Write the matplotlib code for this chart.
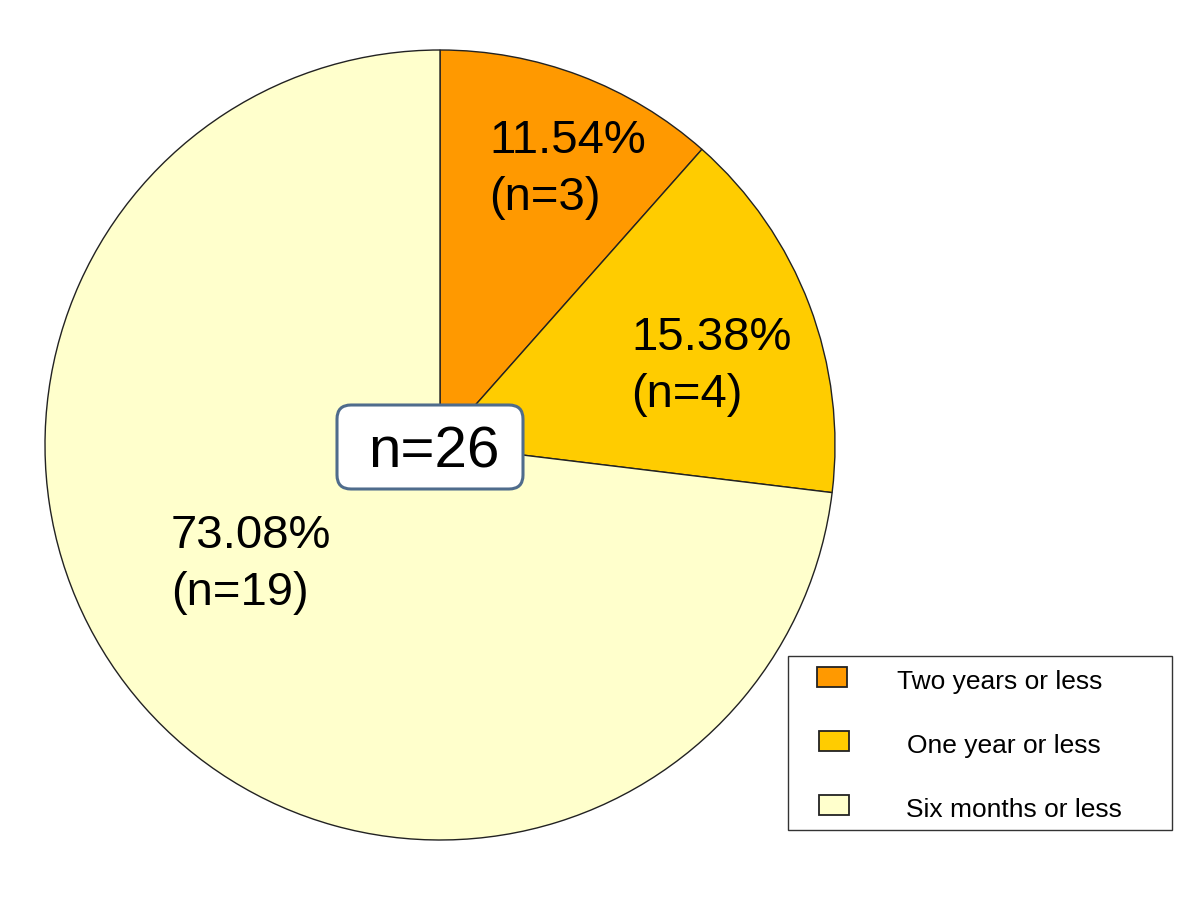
import matplotlib
matplotlib.use("Agg")
import matplotlib.pyplot as plt
from matplotlib.patches import FancyBboxPatch, Rectangle

plt.rcParams['font.family'] = ['Liberation Sans', 'DejaVu Sans']

categories = ["Two years or less", "One year or less", "Six months or less"]
counts = [3, 4, 19]
percents = ["11.54%", "15.38%", "73.08%"]
colors = ["#FF9900", "#FFCC00", "#FFFFCC"]
total_label = "n=26"

W, H = 1200, 900
fig = plt.figure(figsize=(12, 9), dpi=100)
fig.patch.set_facecolor("white")

# pie axes: center (440,445) px, radius 395 px
cx, cy, r = 440, 445, 395
ax = fig.add_axes([(cx - r) / W, (H - cy - r) / H, 2 * r / W, 2 * r / H])
ax.pie(counts, colors=colors, startangle=90, counterclock=False, radius=1,
       wedgeprops=dict(edgecolor="#222222", linewidth=1.0))
ax.set_xlim(-1, 1)
ax.set_ylim(-1, 1)
ax.set_aspect("equal")
ax.axis("off")

# overlay in pixel coordinates
ov = fig.add_axes([0, 0, 1, 1])
ov.set_xlim(0, W)
ov.set_ylim(H, 0)
ov.axis("off")

label_pos = [(489, 153), (631, 350), (171, 548)]
for (x, y), p, n in zip(label_pos, percents, counts):
    ov.text(x, y, p, ha="left", va="baseline", fontsize=34, color="black")
    ov.text(x, y + 57, f"(n={n})", ha="left", va="baseline", fontsize=34, color="black")

# n=26 box
box = FancyBboxPatch((337, 405), 186, 84, boxstyle="round,pad=0,rounding_size=14",
                     facecolor="white", edgecolor="#4F6C8C", linewidth=2.2)
ov.add_patch(box)
ov.text(434, 467, total_label, ha="center", va="baseline", fontsize=42, color="black")

# legend
ov.add_patch(Rectangle((788, 656), 384, 174, facecolor="white", edgecolor="#333333", linewidth=1.0))
rows_y = [689, 753, 817]
marker_x = [817, 819, 819]
text_x = [897, 907, 906]
for yy, mx, tx, c, lab in zip(rows_y, marker_x, text_x, colors, categories):
    ov.add_patch(Rectangle((mx, yy - 22), 30, 20, facecolor=c, edgecolor="#222222", linewidth=1.3))
    ov.text(tx, yy, lab, ha="left", va="baseline", fontsize=19, color="black")

fig.savefig("out.png", dpi=100)
